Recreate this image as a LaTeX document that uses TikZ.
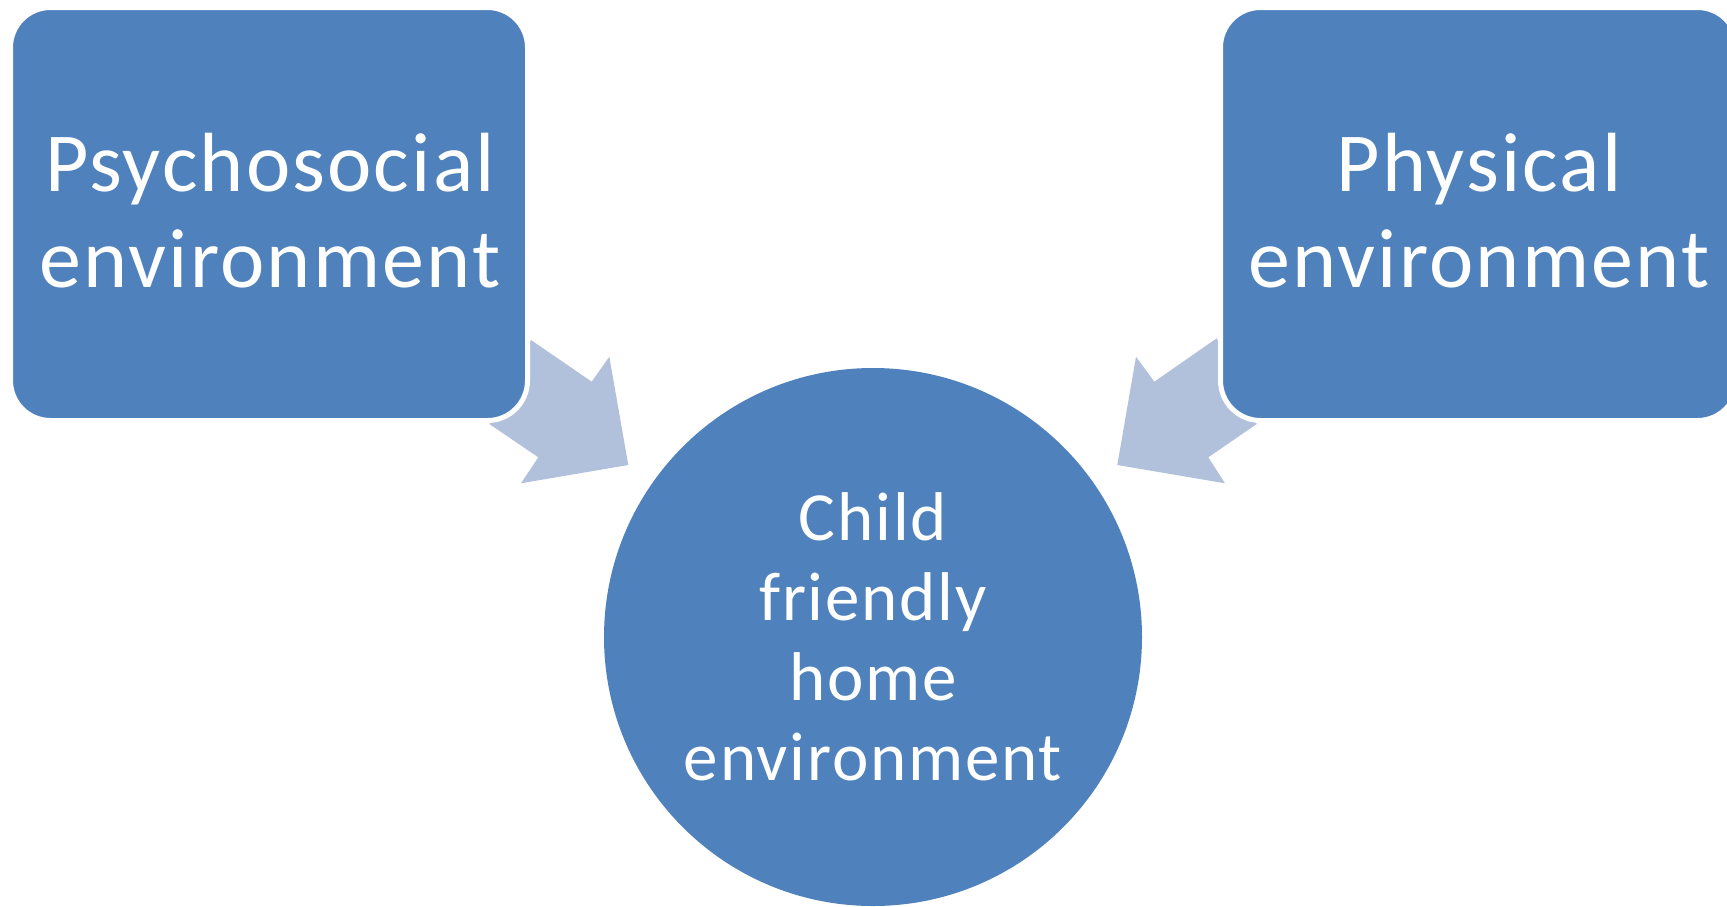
\documentclass[tikz,border=0pt]{standalone}
\usepackage{fontspec}
\setmainfont{Carlito}[LetterSpace=2.6]
\definecolor{boxblue}{HTML}{4F81BD}
\definecolor{arrowblue}{HTML}{B2C1DB}
\tikzset{
  envbox/.style={rectangle, rounded corners=40pt, fill=boxblue, draw=white, line width=5pt,
    minimum width=517pt, minimum height=413pt, text=white, align=center,
    font=\fontsize{84}{96}\selectfont, inner sep=0pt},
  hub/.style={circle, fill=boxblue, minimum size=538pt, text=white, align=center,
    font=\fontsize{69}{80}\selectfont, inner sep=0pt},
  flow/.style={fill=arrowblue, draw=none}
}
\begin{document}
\begin{tikzpicture}[x=1pt,y=-1pt]
\useasboundingbox (0,0) rectangle (1727,906);
\clip (0,0) rectangle (1727,906);
% arrows
\fill[flow] (531,340) -- (591.7,381.7) -- (609.3,356.7) -- (628.3,465) -- (521,483.3) -- (538.3,457.3) -- (489.3,424) -- cycle;
\fill[flow] (1216.7,338.3) -- (1154.3,381.7) -- (1136,356.7) -- (1117.3,465) -- (1225,483.3) -- (1208.3,457.3) -- (1256.7,424) -- cycle;
% boxes
\node[envbox] (psy) at (269,214) {};
\node[text=white, align=center, font=\fontsize{84}{96}\selectfont, inner sep=0pt] (psyt) at (270,211) {Psychosocial\\environment};
\node[envbox] (phy) at (1479,214) {};
\node[text=white, align=center, font=\fontsize{84}{96}\selectfont, inner sep=0pt] (phyt) at (1479,211) {Physical\\environment};
% circle
\node[hub] (child) at (873,637) {Child\\friendly\\home\\environment};
\end{tikzpicture}
\end{document}
